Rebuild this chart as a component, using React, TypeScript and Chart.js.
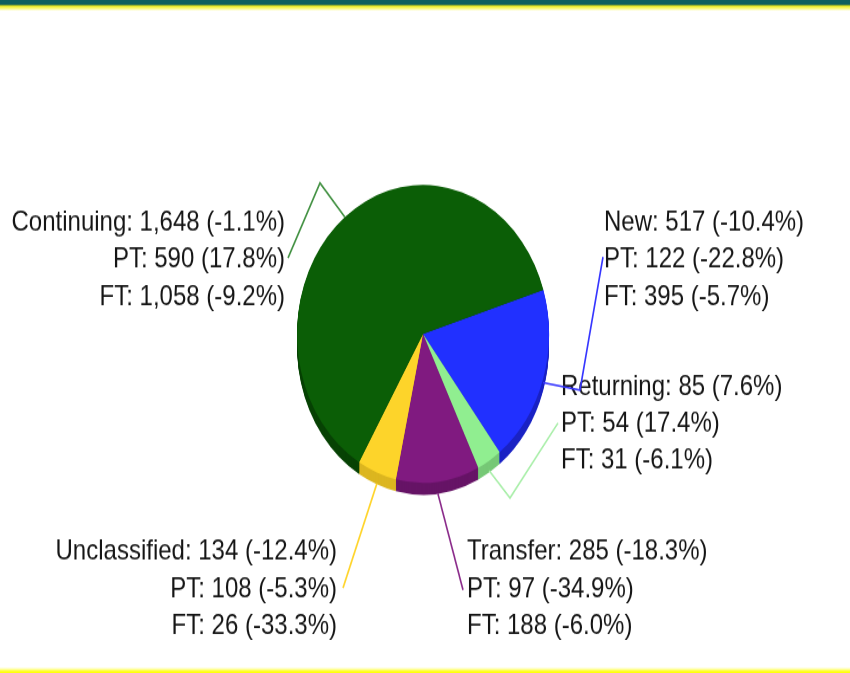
import React, { useEffect, useRef } from "react";
import { Chart, registerables } from "chart.js";

Chart.register(...registerables);

// ---- data ----
const categories = ["New", "Returning", "Transfer", "Unclassified", "Continuing"];
const totals = [517, 85, 285, 134, 1648];
const totalChange = [-10.4, 7.6, -18.3, -12.4, -1.1];
const ptValues = [122, 54, 97, 108, 590];
const ptChange = [-22.8, 17.4, -34.9, -5.3, 17.8];
const ftValues = [395, 31, 188, 26, 1058];
const ftChange = [-5.7, -6.1, -6.0, -33.3, -9.2];

// ---- styles ----
const sliceColors = ["#2130ff", "#90ee90", "#801a80", "#fdd42a", "#0b5e06"];
const rimColors = ["#1a22c4", "#76c876", "#661466", "#dcb620", "#074204"];
const leaderColors = ["#3535ff", "#a8eea8", "#8a2a8a", "#ffd42a", "#3f8f3f"];

// ---- layout (display pixels; canvas is drawn at logical height and stretched vertically) ----
const W = 850;
const H_DISPLAY = 673;
const H_LOGICAL = 569;
const SY = H_DISPLAY / H_LOGICAL;
const DEPTH = 10;
const LINE_GAP = 37;
const TEXT_SHIFT = 2;

type LL = { x: number; y: number; align: CanvasTextAlign; elbow: number[] | null; end: number[] };
const labelLayout: LL[] = [
  { x: 604, y: 221, align: "left", elbow: [580, 390], end: [603, 257] },
  { x: 561, y: 385, align: "left", elbow: [510, 498], end: [558, 423] },
  { x: 467, y: 550, align: "left", elbow: null, end: [463, 590] },
  { x: 337, y: 550, align: "right", elbow: null, end: [343, 588] },
  { x: 285, y: 221, align: "right", elbow: [320, 183], end: [288, 258] },
];

const fmt = (n: number) => n.toLocaleString("en-US");
const pct = (n: number) => `(${n.toFixed(1)}%)`;

const pie3dPlugin = {
  id: "pie3d",
  beforeDatasetsDraw(chart: any) {
    const ctx = chart.ctx;
    const arcs = chart.getDatasetMeta(0).data;
    ctx.save();
    for (let d = DEPTH; d >= 1; d--) {
      arcs.forEach((arc: any, i: number) => {
        const { x, y, startAngle, endAngle, outerRadius } = arc.getProps(
          ["x", "y", "startAngle", "endAngle", "outerRadius"],
          true
        );
        ctx.beginPath();
        ctx.moveTo(x, y + d);
        ctx.arc(x, y + d, outerRadius, startAngle, endAngle);
        ctx.closePath();
        ctx.fillStyle = rimColors[i];
        ctx.fill();
      });
    }
    ctx.restore();
  },
  afterDatasetsDraw(chart: any) {
    const ctx = chart.ctx;
    const arcs = chart.getDatasetMeta(0).data;
    ctx.save();
    ctx.font = '24px "Liberation Sans", Arial, sans-serif';
    ctx.textBaseline = "middle";
    ctx.fillStyle = "#151515";
    arcs.forEach((_: any, i: number) => {
      const L = labelLayout[i];
      const lines = [
        `${categories[i]}: ${fmt(totals[i])} ${pct(totalChange[i])}`,
        `PT: ${fmt(ptValues[i])} ${pct(ptChange[i])}`,
        `FT: ${fmt(ftValues[i])} ${pct(ftChange[i])}`,
      ];
      ctx.textAlign = L.align;
      lines.forEach((t, k) => {
        ctx.fillText(t, L.x, (L.y + TEXT_SHIFT + k * LINE_GAP) / SY);
      });
    });
    ctx.lineWidth = 1.6;
    arcs.forEach((arc: any, i: number) => {
      const L = labelLayout[i];
      const { x, y, startAngle, endAngle, outerRadius } = arc.getProps(
        ["x", "y", "startAngle", "endAngle", "outerRadius"],
        true
      );
      const a = (startAngle + endAngle) / 2;
      const s = Math.sin(a);
      const ax = x + outerRadius * Math.cos(a);
      const ay = y + outerRadius * s + (s > 0 ? DEPTH * s : 0);
      ctx.beginPath();
      ctx.moveTo(ax, ay);
      if (L.elbow) ctx.lineTo(L.elbow[0], L.elbow[1] / SY);
      ctx.lineTo(L.end[0], L.end[1] / SY);
      ctx.strokeStyle = leaderColors[i];
      ctx.stroke();
    });
    ctx.restore();
  },
};

export default function App() {
  const ref = useRef<HTMLCanvasElement | null>(null);

  useEffect(() => {
    if (!ref.current) return;
    const chart = new Chart(ref.current, {
      type: "pie",
      data: {
        labels: categories,
        datasets: [
          {
            data: totals,
            backgroundColor: sliceColors,
            borderWidth: 0,
            hoverOffset: 0,
          },
        ],
      },
      options: {
        responsive: false,
        animation: false,
        devicePixelRatio: 1,
        rotation: 72.8,
        events: [],
        layout: {
          padding: { left: 297, right: 301, top: 156.3, bottom: 160.7 },
        },
        plugins: {
          legend: { display: false },
          tooltip: { enabled: false },
          title: { display: false },
        },
      },
      plugins: [pie3dPlugin],
    });
    return () => chart.destroy();
  }, []);

  return (
    <div
      style={{
        position: "absolute",
        left: 0,
        top: 0,
        width: W,
        height: H_DISPLAY,
        background: "#ffffff",
        overflow: "hidden",
      }}
    >
      <canvas
        ref={ref}
        width={W}
        height={H_LOGICAL}
        style={{ position: "absolute", left: 0, top: 0, width: W + "px", height: H_DISPLAY + "px" }}
      />
      <div
        style={{
          position: "absolute",
          left: 0,
          top: 0,
          width: W,
          height: 11,
          background:
            "linear-gradient(to bottom, #0f5f5f 0px, #0f5f5f 4px, #5e8a3c 5px, #d9df25 6px, #f4f040 7px, #fbfa90 9px, rgba(255,255,255,0) 11px)",
        }}
      />
      <div
        style={{
          position: "absolute",
          left: 0,
          top: 667,
          width: W,
          height: 6,
          background:
            "linear-gradient(to bottom, rgba(255,255,255,0) 0px, #ffffb0 2px, #ffff30 4px, #ffff00 6px)",
        }}
      />
    </div>
  );
}
